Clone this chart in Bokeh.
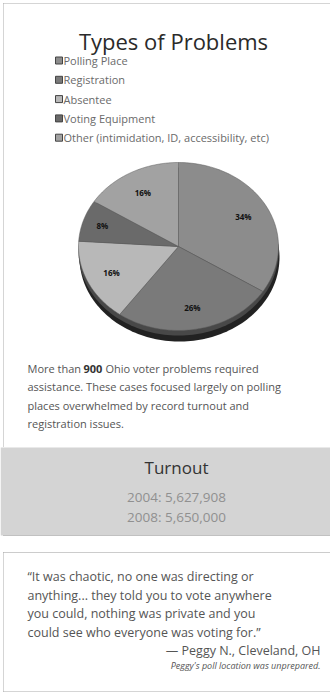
import numpy as np
from bokeh.plotting import figure
from bokeh.models import Range1d
from bokeh.core.properties import value
from bokeh.embed import file_html
from bokeh.resources import INLINE

# ---- data ----
categories = ["Polling Place", "Registration", "Absentee", "Voting Equipment",
              "Other (intimidation, ID, accessibility, etc)"]
shares = [34, 26, 16, 8, 16]
slice_colors = ["#8c8c8c", "#7a7a7a", "#b8b8b8", "#6a6a6a", "#a2a2a2"]
turnout_years = ["2004", "2008"]
turnout_values = ["5,627,908", "5,650,000"]
quote_lines = ["\u201cIt was chaotic, no one was directing or",
               "anything... they told you to vote anywhere",
               "you could, nothing was private and you",
               "could see who everyone was voting for.\u201d"]
para_lines = ["assistance. These cases focused largely on polling",
              "places overwhelmed by record turnout and",
              "registration issues."]

FONT = value("Open Sans")
W, H = 330, 694
p = figure(width=W, height=H, x_range=Range1d(0, W), y_range=Range1d(H, 0),
           output_backend="svg", toolbar_location=None, min_border=0,
           x_axis_location=None, y_axis_location=None)
p.grid.visible = False
p.outline_line_color = None
p.background_fill_color = "white"
p.border_fill_color = "white"

# borders (dotted)
p.line([3, 3], [3, 447], line_color="#aaaaaa", line_dash="1 1", line_width=1)
p.line([3, 330], [3, 3], line_color="#aaaaaa", line_dash="1 1", line_width=1)

# title
p.text([173], [40], text=["Types of Problems"], text_font=FONT, text_font_size="22px",
       text_color="#2a2a2a", text_align="center", text_baseline="middle")

# legend
ly0, ldy = 60, 19.3
for i, (c, col) in enumerate(zip(categories, slice_colors)):
    y = ly0 + i * ldy
    p.rect([58.5], [y], width=7, height=7, fill_color=col, line_color="#444444", line_width=1)
    p.text([63], [y], text=[c], text_font=FONT, text_font_size="11px",
           text_color="#6a6a6a", text_baseline="middle")

# pie (tilted ellipse)
cx, cy, rx, ry = 178, 246, 100, 84
t = np.linspace(0, 2 * np.pi, 200)
p.patch(cx + 1 + rx * np.sin(t), cy + 11 - ry * np.cos(t), fill_color="#222222", line_color=None)
p.patch(cx + rx * np.sin(t), cy + 5 - ry * np.cos(t), fill_color="#484848", line_color=None)
tot = float(sum(shares))
bounds = np.concatenate([[0], np.cumsum(shares)]) / tot * 2 * np.pi
xs, ys, lx, lyy, labs = [], [], [], [], []
for i in range(len(shares)):
    a = np.linspace(bounds[i], bounds[i + 1], 80)
    xs.append(list(np.concatenate([[cx], cx + rx * np.sin(a)])))
    ys.append(list(np.concatenate([[cy], cy - ry * np.cos(a)])))
    m = (bounds[i] + bounds[i + 1]) / 2
    f = 0.74 if shares[i] > 10 else 0.8
    lx.append(cx + f * rx * np.sin(m))
    lyy.append(cy - f * ry * np.cos(m))
    labs.append(f"{shares[i]}%")
p.patches(xs, ys, fill_color=slice_colors, line_color="#5a5a5a", line_width=0.5)
p.text(lx, lyy, text=labs, text_font=FONT, text_font_size="8px", text_font_style="bold",
       text_color="#111111", text_align="center", text_baseline="middle")

# paragraph
PF = "11px"
p.text([27], [368], text=["More than "], text_font=FONT, text_font_size=PF,
       text_color="#555555", text_baseline="middle")
p.text([83], [368], text=["900"], text_font=FONT, text_font_size=PF, text_font_style="bold",
       text_color="#333333", text_baseline="middle")
p.text([105], [368], text=["Ohio voter problems required"], text_font=FONT, text_font_size=PF,
       text_color="#555555", text_baseline="middle")
p.text([27] * 3, [386, 405, 423], text=para_lines, text_font=FONT, text_font_size=PF,
       text_color="#555555", text_baseline="middle")

# turnout box
p.quad(left=[0], right=[330], top=[447], bottom=[535], fill_color="#d4d4d4", line_color=None)
p.line([3, 330], [535, 535], line_color="#999999", line_dash="1 1")
p.text([176], [467], text=["Turnout"], text_font=FONT, text_font_size="17px",
       text_color="#333333", text_align="center", text_baseline="middle")
p.text([176, 176], [496, 516], text=[f"{y}: {v}" for y, v in zip(turnout_years, turnout_values)],
       text_font=FONT, text_font_size="13.5px", text_color="#909090",
       text_align="center", text_baseline="middle")

# quote box
p.line([3, 330], [552, 552], line_color="#999999", line_dash="1 1")
p.line([3, 3], [552, 691], line_color="#aaaaaa", line_dash="1 1")
p.line([3, 330], [691, 691], line_color="#aaaaaa", line_dash="1 1")
p.text([27] * 4, [576, 595, 613, 632], text=quote_lines, text_font=FONT, text_font_size="12.5px",
       text_color="#555555", text_baseline="middle")
p.text([320], [650], text=["\u2014 Peggy N., Cleveland, OH"], text_font=FONT, text_font_size="12.5px",
       text_color="#555555", text_align="right", text_baseline="middle")
p.text([320], [665], text=["Peggy's poll location was unprepared."], text_font=FONT,
       text_font_size="9px", text_font_style="italic",
       text_color="#555555", text_align="right", text_baseline="middle")

open("out.html", "w").write(file_html(p, INLINE))
